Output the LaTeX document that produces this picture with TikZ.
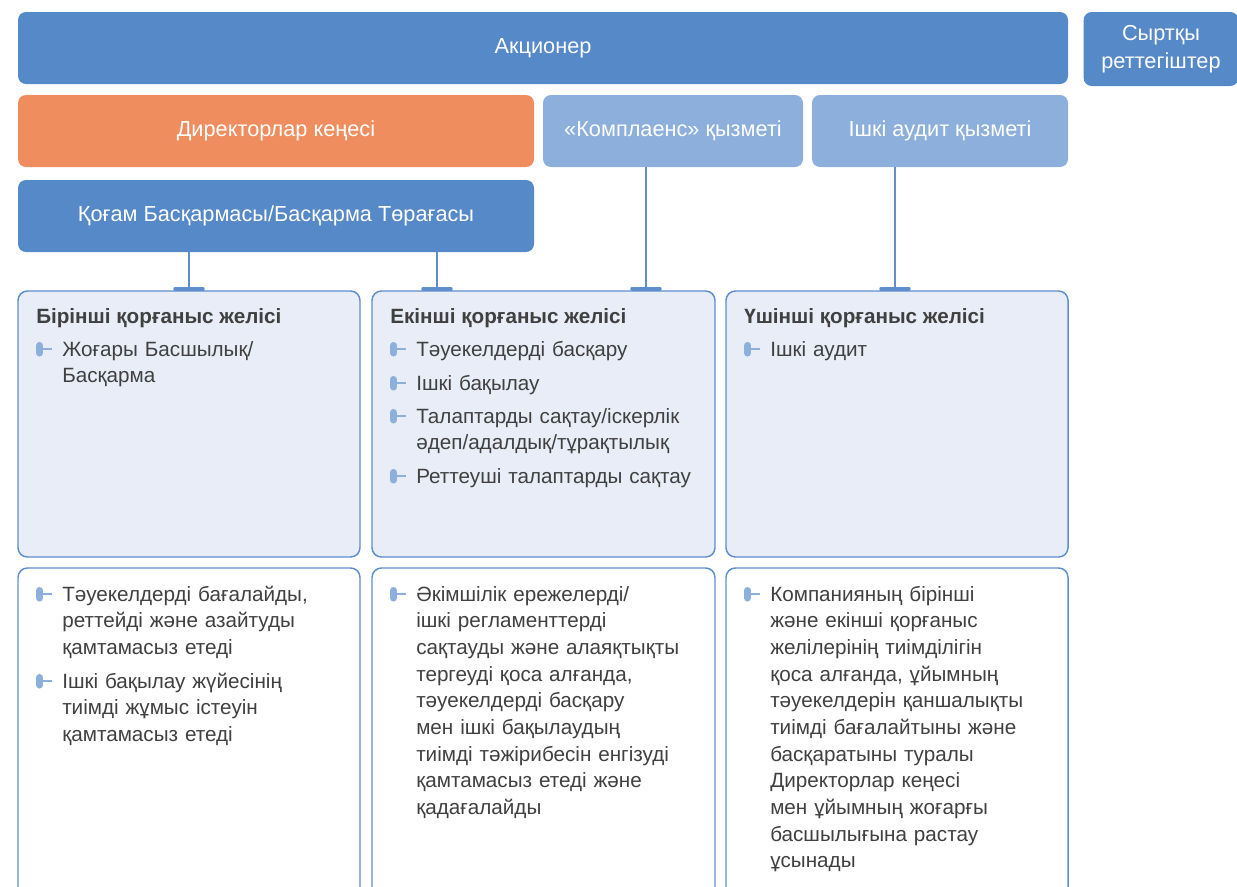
\documentclass[tikz,border=0pt]{standalone}
\usepackage{fontspec}
\setmainfont{Liberation Sans}
\usetikzlibrary{calc}
\definecolor{dblue}{HTML}{5589C8}
\definecolor{lblue}{HTML}{8CAFDC}
\definecolor{orng}{HTML}{F08D5E}
\definecolor{pfill}{HTML}{E8EDF7}
\definecolor{bord}{HTML}{5E8FCC}
\definecolor{txt}{HTML}{404040}
\definecolor{bulc}{HTML}{8CAFDC}
\newcommand\bulmark[1]{%
  \draw[bulc,line width=5.3pt,line cap=round] ($(#1.base west)+(-22.5,-10.5)$) -- ++(0,7.5);
  \draw[bulc,line width=1.4pt] ($(#1.base west)+(-22,-6.8)$) -- ++(12,0);}
\begin{document}
\begin{tikzpicture}[x=0.75pt,y=-0.75pt,
  hbox/.style={rectangle,rounded corners=6pt,text=white,inner sep=0pt,align=center,
    font=\fontsize{16.3}{19}\selectfont},
  dbox/.style={hbox,fill=dblue},
  lbox/.style={hbox,fill=lblue},
  obox/.style={hbox,fill=orng},
  panel/.style={rectangle,rounded corners=7pt,draw=bord,line width=1.1pt,fill=pfill,inner sep=0pt,
    minimum width=256.5pt,minimum height=199.5pt},
  wpanel/.style={panel,fill=white,minimum height=255pt},
  conn/.style={draw=bord,line width=1.5pt},
  tbar/.style={draw=bord,line width=2.6pt,line cap=round},
  ttl/.style={anchor=base west,inner sep=0pt,text=txt,font=\fontsize{15.5}{19}\selectfont\bfseries},
  itm/.style={anchor=base west,inner sep=0pt,text=txt,align=left,text width=240pt,
    font=\fontsize{15.5}{20}\selectfont},
]
\useasboundingbox (0,0) rectangle (1237,886);

% top boxes
\node[dbox,minimum width=787.5pt,minimum height=54pt] (akc) at (543,48) {Акционер};
\node[dbox,minimum width=116pt,minimum height=55.5pt] (syr) at (1161,49) {Сыртқы\\[1.5pt]реттегіштер};
\node[obox,minimum width=387pt,minimum height=54pt] (dir) at (276,131) {Директорлар кеңесі};
\node[lbox,minimum width=195pt,minimum height=54pt] (komp) at (673,131) {«Комплаенс» қызметі};
\node[lbox,minimum width=192pt,minimum height=54pt] (aud) at (940,131) {Ішкі аудит қызметі};
\node[dbox,minimum width=387pt,minimum height=54pt] (qog) at (276,216) {Қоғам Басқармасы/Басқарма Төрағасы};

% panels
\node[panel] (p1) at (189,424) {};
\node[panel,minimum width=257.25pt] (p2) at (543.5,424) {};
\node[panel] (p3) at (897,424) {};
\node[wpanel] (w1) at (189,738) {};
\node[wpanel,minimum width=257.25pt] (w2) at (543.5,738) {};
\node[wpanel] (w3) at (897,738) {};

% connectors
\coordinate (c1) at (p1.north);
\coordinate (c2) at ($(p2.north)+(-106.5,0)$);
\coordinate (c3) at ($(p2.north)+(102.5,0)$);
\coordinate (c4) at ($(p3.north)+(-2,0)$);
\draw[conn] (qog.south -| c1) -- (c1);
\draw[conn] (qog.south -| c2) -- (c2);
\draw[conn] (komp.south -| c3) -- (c3);
\draw[conn] (aud.south -| c4) -- (c4);
\foreach \c in {c1,c2,c3,c4}{
  \draw[tbar] ($(\c)+(-14,-1.5)$) -- ($(\c)+(14,-1.5)$);
}

% panel 1
\node[ttl] (t1) at (36,323) {Бірінші қорғаныс желісі};
\node[itm] (a1) at (62,356) {Жоғары Басшылық/\\Басқарма};
\bulmark{a1}
% panel 2
\node[ttl] (t2) at (390,323) {Екінші қорғаныс желісі};
\node[itm] (b1) at (416,356) {Тәуекелдерді басқару};
\node[itm] (b2) at (416,390) {Ішкі бақылау};
\node[itm] (b3) at (416,423) {Талаптарды сақтау/іскерлік\\әдеп/адалдық/тұрақтылық};
\node[itm] (b4) at (416,483) {Реттеуші талаптарды сақтау};
\bulmark{b1}\bulmark{b2}\bulmark{b3}\bulmark{b4}
% panel 3
\node[ttl] (t3) at (744,323) {Үшінші қорғаныс желісі};
\node[itm] (c1i) at (770,356) {Ішкі аудит};
\bulmark{c1i}

% bottom 1
\node[itm] (d1) at (62,601) {Тәуекелдерді бағалайды,\\реттейді және азайтуды\\қамтамасыз етеді};
\node[itm] (d2) at (62,688) {Ішкі бақылау жүйесінің\\тиімді жұмыс істеуін\\қамтамасыз етеді};
\bulmark{d1}\bulmark{d2}
% bottom 2
\node[itm] (e1) at (416,601) {Әкімшілік ережелерді/\\ішкі регламенттерді\\сақтауды және алаяқтықты\\тергеуді қоса алғанда,\\тәуекелдерді басқару\\мен ішкі бақылаудың\\тиімді тәжірибесін енгізуді\\қамтамасыз етеді және\\қадағалайды};
\bulmark{e1}
% bottom 3
\node[itm] (f1) at (770,601) {Компанияның бірінші\\және екінші қорғаныс\\желілерінің тиімділігін\\қоса алғанда, ұйымның\\тәуекелдерін қаншалықты\\тиімді бағалайтыны және\\басқаратыны туралы\\Директорлар кеңесі\\мен ұйымның жоғарғы\\басшылығына растау\\ұсынады};
\bulmark{f1}
\end{tikzpicture}
\end{document}
